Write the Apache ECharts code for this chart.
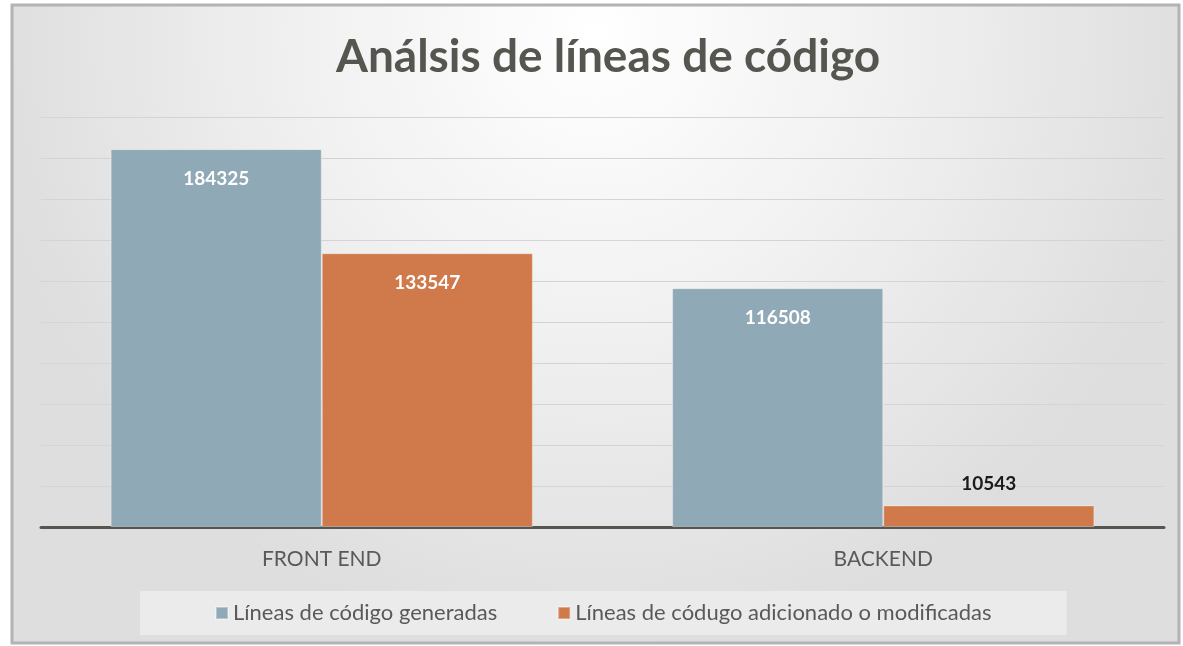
<!DOCTYPE html>
<html>
<head>
<meta charset="utf-8">
<script src="https://cdn.jsdelivr.net/npm/echarts@6/dist/echarts.min.js"></script>
<style>
html,body{margin:0;padding:0;background:#fff;}
#chart{width:1183px;height:646px;}
</style>
</head>
<body>
<div id="chart"></div>
<script>
var titleText = 'Análsis de líneas de código';
var categories = ['FRONT END', 'BACKEND'];
var seriesNames = ['Líneas de código generadas', 'Líneas de códugo adicionado o modificadas'];
var generadas = [184325, 116508];
var modificadas = [133547, 10543];
var yMin = 0, yMax = 200000, yInterval = 20000;

var chart = echarts.init(document.getElementById('chart'));
var labelInside = {show: true, position: 'insideTop', distance: 20, color: '#ffffff', fontFamily: 'Lato', fontWeight: 'bold', fontSize: 19};
var labelAbove = {show: true, position: 'top', distance: 12, color: '#1a1a1a', fontFamily: 'Lato', fontWeight: 'bold', fontSize: 19};
function makeData(arr) {
  return arr.map(function (v) {
    return {value: v, label: v < 30000 ? labelAbove : labelInside};
  });
}
var option = {
  backgroundColor: '#ffffff',
  graphic: [{
    type: 'rect', z: -10, silent: true,
    shape: {x: 12, y: 5, width: 1167, height: 638},
    style: {
      fill: new echarts.graphic.RadialGradient(0.5, 0.05, 0.95, [
        {offset: 0, color: '#ffffff'},
        {offset: 0.5, color: '#f0f0f0'},
        {offset: 1, color: '#dedede'}
      ]),
      stroke: '#b3b3b3', lineWidth: 3
    }
  }],
  title: {
    text: titleText, left: 331, top: 29,
    textStyle: {fontFamily: 'Lato', fontWeight: 'bold', fontSize: 46, color: '#55564f'}
  },
  legend: {
    bottom: 11, left: 140,
    backgroundColor: '#ebebeb',
    padding: [11, 75],
    itemGap: 60, itemWidth: 12, itemHeight: 12, icon: 'rect',
    textStyle: {fontFamily: 'Lato', fontSize: 22, color: '#595959'},
    data: seriesNames
  },
  grid: {left: 41, right: 19, top: 117, bottom: 119, containLabel: false},
  xAxis: {
    type: 'category', data: categories,
    axisLine: {lineStyle: {color: '#55564f', width: 3}},
    axisTick: {show: false},
    axisLabel: {margin: 22, fontFamily: 'Lato', fontSize: 21, color: '#595959'}
  },
  yAxis: {
    type: 'value', min: yMin, max: yMax, interval: yInterval,
    axisLabel: {show: false}, axisLine: {show: false}, axisTick: {show: false},
    splitLine: {lineStyle: {color: '#d4d4d4', width: 1}}
  },
  series: [
    {name: seriesNames[0], type: 'bar', barWidth: '37.6%', barGap: '0%',
     itemStyle: {color: '#90a9b6', borderColor: 'rgba(255,255,255,0.35)', borderWidth: 1},
     data: makeData(generadas)},
    {name: seriesNames[1], type: 'bar', barWidth: '37.6%',
     itemStyle: {color: '#d07a4c', borderColor: 'rgba(255,255,255,0.35)', borderWidth: 1},
     data: makeData(modificadas)}
  ]
};
chart.setOption(option);
</script>
</body>
</html>
